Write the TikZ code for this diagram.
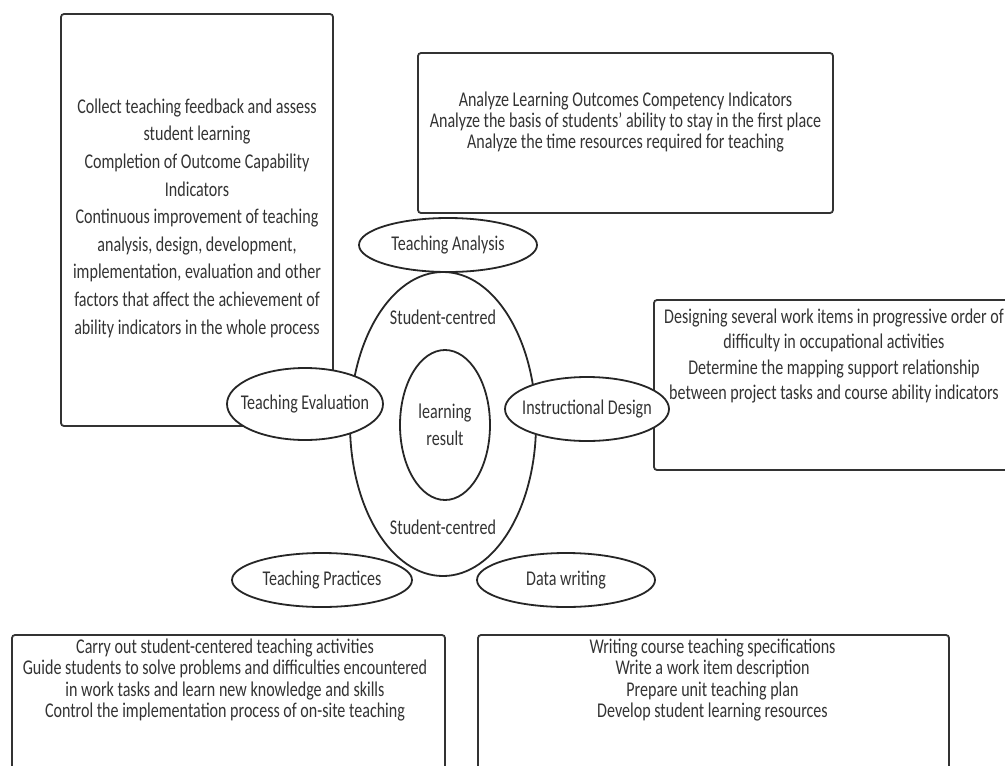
\documentclass[tikz,border=0pt]{standalone}
\usepackage{fontspec}
\setmainfont{Carlito}[FakeStretch=0.765]
\usepackage{tikz}
\usetikzlibrary{shapes.geometric}
\usepackage{xcolor}
\tikzset{
    infobox/.style={
        draw=black!80,
        rectangle,
        rounded corners=3pt,
        line width=1.8pt,
        inner sep=0pt
    },
    infotext/.style={
        align=center,
        text=black!80,
        inner sep=0pt,
        font=\fontsize{21}{#1}\selectfont
    },
    phase/.style={
        draw=black!85,
        ellipse,
        fill=white,
        line width=1.8pt,
        inner xsep=-15pt,
        inner ysep=-4pt,
        text=black!80,
        font=\fontsize{21}{23}\selectfont
    }
}

\begin{document}
\begin{tikzpicture}[x=1pt,y=-1pt]
  \useasboundingbox (0,0) rectangle (1005,766);
  \clip (0,0) rectangle (1005,766);

  % Outer boxes
  \node[infobox, minimum width=272, minimum height=412] (evalbox) at (197,220) {};
  \node[infobox, minimum width=415, minimum height=160] (analysisbox) at (625.5,133) {};
  \node[infobox, minimum width=390, minimum height=170] (designbox) at (849,385) {};
  \node[infobox, minimum width=433, minimum height=170] (practicebox) at (228.5,720) {};
  \node[infobox, minimum width=471, minimum height=170] (writingbox) at (713.5,720) {};

  % Box texts
  \node[infotext=27.6] (evaltext) at (197,218) {Collect teaching feedback and assess\\student learning\\Completion of Outcome Capability\\Indicators\\Continuous improvement of teaching\\analysis, design, development,\\implementation, evaluation and other\\factors that affect the achievement of\\ability indicators in the whole process};
  \node[infotext=21] (analysistext) at (625.5,122) {Analyze Learning Outcomes Competency Indicators\\Analyze the basis of students' ability to stay in the first place\\Analyze the time resources required for teaching};
  \node[infotext=25.5] (designtext) at (834,356) {Designing several work items in progressive order of\\difficulty in occupational activities\\Determine the mapping support relationship\\between project tasks and course ability indicators};
  \node[infotext=21.5] (practicetext) at (225,680) {Carry out student-centered teaching activities\\Guide students to solve problems and difficulties encountered\\in work tasks and learn new knowledge and skills\\Control the implementation process of on-site teaching};
  \node[infotext=21.5] (writingtext) at (712.5,680) {Writing course teaching specifications\\Write a work item description\\Prepare unit teaching plan\\Develop student learning resources};

  % Centre
  \node[phase, minimum width=186, minimum height=304] (core) at (443,424) {};
  \node[phase, minimum width=90, minimum height=150, align=center, font=\fontsize{21}{27}\selectfont] (result) at (445,425) {learning\\result};
  \node[infotext=23] (centredtop) at (443,317) {Student-centred};
  \node[infotext=23] (centredbottom) at (443,527) {Student-centred};

  % Phases
  \node[phase, minimum width=178, minimum height=54] (analysis) at (448,245) {Teaching Analysis};
  \node[phase, minimum width=156, minimum height=72] (evaluation) at (305,404) {Teaching Evaluation};
  \node[phase, minimum width=164, minimum height=64] (design) at (587,409) {Instructional Design};
  \node[phase, minimum width=180, minimum height=54] (practice) at (322,580) {Teaching Practices};
  \node[phase, minimum width=178, minimum height=54] (writing) at (566,580) {Data writing};
\end{tikzpicture}
\end{document}
